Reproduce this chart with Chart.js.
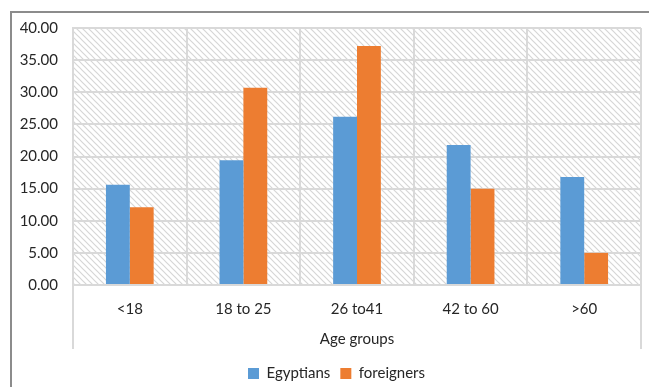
<!DOCTYPE html>
<html>
<head>
<meta charset="utf-8">
<script src="https://cdn.jsdelivr.net/npm/chart.js@4"></script>
<style>
  html, body { margin: 0; padding: 0; background: #fff; }
  #wrap { width: 649px; height: 387px; position: relative; }
</style>
</head>
<body>
<div id="wrap"><canvas id="ageChart"></canvas></div>
<script>
// Data
const categories = ['<18', '18 to 25', '26 to41', '42 to 60', '>60'];
const egyptians = [15.6, 19.4, 26.2, 21.8, 16.8];
const foreigners = [12.1, 30.7, 37.2, 15.0, 5.0];
const yTicks = [0, 5, 10, 15, 20, 25, 30, 35, 40];

const gridGray = '#d9d9d9';
const textColor = '#262626';

// diagonal hatch used as the plot background
function makeHatch() {
    const c = document.createElement('canvas');
    c.width = 6; c.height = 6;
    const g = c.getContext('2d');
    g.strokeStyle = '#d6d6d6';
    g.lineWidth = 1.2;
    g.beginPath();
    g.moveTo(-1, -1); g.lineTo(7, 7);
    g.moveTo(-1, 5); g.lineTo(1, 7);
    g.moveTo(5, -1); g.lineTo(7, 1);
    g.stroke();
    return g.createPattern(c, 'repeat');
}

const backdrop = {
    id: 'backdrop',
    afterLayout(chart) {
        // legend sits a bit right of centre and low in the reference
        const lg = chart.legend;
        lg.left += 16; lg.right += 16;
        lg.top += 4; lg.bottom += 4;
    },
    beforeDraw(chart) {
        const ctx = chart.ctx;
        const a = chart.chartArea;
        ctx.save();
        // outer frame (top + left visible in the crop)
        ctx.strokeStyle = '#8c8c8c';
        ctx.lineWidth = 2;
        ctx.beginPath();
        ctx.moveTo(11, 387); ctx.lineTo(11, 12); ctx.lineTo(649, 12);
        ctx.stroke();
        // hatched plot area
        ctx.fillStyle = makeHatch();
        ctx.fillRect(a.left, a.top, a.right - a.left, a.bottom - a.top);
        // side lines running down past the axis labels
        ctx.strokeStyle = gridGray;
        ctx.lineWidth = 2;
        ctx.beginPath();
        ctx.moveTo(a.left, a.top); ctx.lineTo(a.left, 349);
        ctx.moveTo(a.right, a.top); ctx.lineTo(a.right, 349);
        ctx.stroke();
        ctx.restore();
    }
};

Chart.defaults.font.family = 'Lato, "Open Sans", sans-serif';
Chart.defaults.color = textColor;

new Chart(document.getElementById('ageChart'), {
    type: 'bar',
    data: {
        labels: categories,
        datasets: [
            { label: 'Egyptians', data: egyptians, backgroundColor: '#5b9bd5' },
            { label: 'foreigners', data: foreigners, backgroundColor: '#ed7d31' }
        ]
    },
    options: {
        responsive: true,
        maintainAspectRatio: false,
        animation: false,
        devicePixelRatio: 1,
        layout: { padding: { left: 0, right: 8, top: 28, bottom: 0 } },
        datasets: { bar: { categoryPercentage: 0.42, barPercentage: 1.0 } },
        plugins: {
            tooltip: { enabled: false },
            legend: {
                position: 'bottom',
                labels: {
                    boxWidth: 11, boxHeight: 11, padding: 10,
                    font: { size: 15 }, color: textColor
                }
            }
        },
        scales: {
            x: {
                grid: { color: gridGray, lineWidth: 2, drawTicks: false, offset: true },
                border: { color: gridGray, width: 2 },
                ticks: { padding: 15, font: { size: 15 }, color: textColor },
                title: {
                    display: true, text: 'Age groups',
                    font: { size: 15 }, color: textColor, padding: { top: -3, bottom: 4 }
                }
            },
            y: {
                min: 0, max: 40,
                afterBuildTicks(scale) { scale.ticks = yTicks.map(v => ({ value: v })); },
                afterFit(scale) { scale.width = 73; },
                grid: { color: gridGray, lineWidth: 2, drawTicks: false },
                border: { color: gridGray, width: 2 },
                ticks: {
                    padding: 15, font: { size: 15 }, color: textColor,
                    callback: v => v.toFixed(2)
                }
            }
        }
    },
    plugins: [backdrop]
});
</script>
</body>
</html>
